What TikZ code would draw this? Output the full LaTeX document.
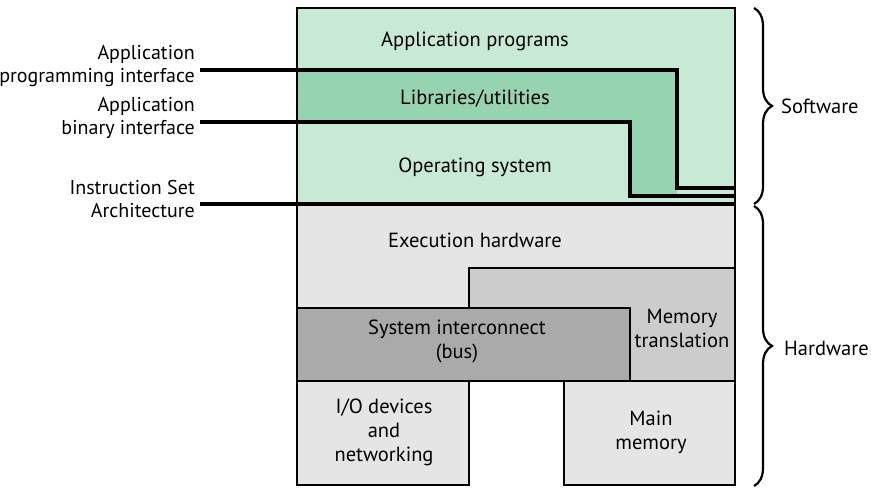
\documentclass[tikz,border=0pt]{standalone}
\usepackage{fontspec}
\setmainfont{PT Sans}
\usetikzlibrary{decorations.pathreplacing}
\definecolor{swlight}{RGB}{200,234,213}
\definecolor{swdark}{RGB}{150,212,177}
\definecolor{hwlight}{RGB}{229,229,229}
\definecolor{hwmid}{RGB}{204,204,204}
\definecolor{hwdark}{RGB}{170,170,170}
\tikzset{
  box/.style={draw=black,line width=2.5pt},
  iface/.style={line width=4pt},
  txt/.style={font=\fontsize{20.5}{24}\selectfont,align=center,inner sep=0pt},
  side/.style={font=\fontsize{20}{23}\selectfont,align=right,anchor=east,inner sep=0pt},
  brc/.style={decorate,decoration={brace,amplitude=18pt},line width=2.2pt},
}
\begin{document}
\begin{tikzpicture}[x=1pt,y=-1pt]
\useasboundingbox (0,0) rectangle (871,502);

   % software layers
   \fill[swlight] (297,8) rectangle (735,204);
   \fill[swdark] (297,70) -- (677,70) -- (677,196) -- (630,196) -- (630,122) -- (297,122) -- cycle;
   \draw[line width=2pt] (297,8) rectangle (735,204);

   % hardware layers
   \draw[box,fill=hwlight] (297,204) rectangle (735,381);
   \draw[box,fill=hwmid] (469,268) rectangle (735,381);
   \draw[box,fill=hwdark] (297,308) rectangle (630,381);
   \draw[box,fill=hwlight] (297,381) rectangle (469,485);
   \draw[box,fill=hwlight] (564,381) rectangle (735,485);

   \node[txt] at (475,41)  (app) {Application programs};
   \node[txt] at (475,99)  (lib) {Libraries/utilities};
   \node[txt] at (475,167) (os)  {Operating system};
   \node[txt] at (475,240) (exe) {Execution hardware};
   \node[txt] at (682,328) (mmu) {Memory\\translation};
   \node[txt] at (457,341) (bus) {System interconnect\\(bus)};
   \node[txt] at (384,432) (io)  {I/O devices\\and\\networking};
   \node[txt] at (651,432) (mem) {Main\\memory};

   \node[side] at (195,66)  (api) {Application\\programming interface};
   \node[side] at (195,118) (abi) {Application\\binary interface};
   \node[side] at (195,199) (isa) {Instruction Set\\Architecture};

   \coordinate (api0) at (200,70);
   \coordinate (api1) at (677,188);
   \coordinate (api2) at (736,188);
   \coordinate (abi0) at (200,122);
   \coordinate (abi1) at (630,196);
   \coordinate (abi2) at (736,196);
   \coordinate (isa0) at (200,204);
   \coordinate (isa1) at (736,204);

   \draw[iface] (api0) -| (api1) -- (api2);
   \draw[iface] (abi0) -| (abi1) -- (abi2);
   \draw[iface] (isa0) -- (isa1);

   \coordinate (sw0) at (754,8);
   \coordinate (sw1) at (754,204);
   \coordinate (hw0) at (754,206);
   \coordinate (hw1) at (754,486);
   \draw[brc] (sw0) -- (sw1);
   \draw[brc] (hw0) -- (hw1);
   \node[txt,anchor=west] at (781,106) (sw) {Software};
   \node[txt,anchor=west] at (784,348) (hw) {Hardware};

\end{tikzpicture}
\end{document}
